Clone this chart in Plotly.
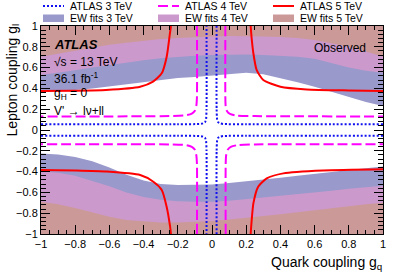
import plotly.graph_objects as go

# ---------------- data ----------------
GQ = [-1.0, -0.9, -0.8, -0.7, -0.6, -0.5, -0.4, -0.3, -0.2, -0.1, 0.0,
      0.1, 0.2, 0.3, 0.4, 0.5, 0.6, 0.7, 0.8, 0.9, 1.0]

EW3_UP = [0.37, 0.375, 0.385, 0.40, 0.42, 0.44, 0.46, 0.48, 0.50, 0.51, 0.525,
          0.54, 0.55, 0.535, 0.50, 0.46, 0.415, 0.365, 0.315, 0.27, 0.23]
EW3_LO = [-0.225, -0.235, -0.26, -0.30, -0.36, -0.43, -0.485, -0.52, -0.53, -0.53, -0.525,
          -0.51, -0.495, -0.48, -0.46, -0.44, -0.425, -0.405, -0.385, -0.37, -0.35]
EW4_UP = [0.53, 0.55, 0.575, 0.60, 0.625, 0.65, 0.67, 0.69, 0.705, 0.715, 0.72,
          0.725, 0.725, 0.72, 0.715, 0.705, 0.685, 0.645, 0.60, 0.57, 0.55]
EW4_LO = [-0.40, -0.41, -0.44, -0.49, -0.54, -0.60, -0.645, -0.67, -0.685, -0.69, -0.69,
          -0.68, -0.665, -0.65, -0.635, -0.62, -0.60, -0.585, -0.565, -0.55, -0.535]
EW5_UP = [0.705, 0.735, 0.765, 0.795, 0.82, 0.84, 0.86, 0.875, 0.885, 0.895, 0.90,
          0.905, 0.905, 0.90, 0.895, 0.885, 0.865, 0.835, 0.80, 0.755, 0.705]
EW5_LO = [-0.69, -0.715, -0.75, -0.795, -0.835, -0.865, -0.88, -0.89, -0.89, -0.885, -0.875,
          -0.86, -0.845, -0.83, -0.81, -0.79, -0.77, -0.75, -0.73, -0.715, -0.70]

# ATLAS observed 3 TeV (four branches)
A3_UL_X = [-1.0, -0.2, -0.07, -0.052, -0.041, -0.035, -0.032, -0.032]
A3_UL_Y = [0.055, 0.056, 0.058, 0.064, 0.075, 0.10, 0.2, 1.0]
A3_UR_X = [1.0, 0.2, 0.065, 0.047, 0.036, 0.030, 0.027, 0.027]
A3_UR_Y = [0.055, 0.056, 0.058, 0.064, 0.075, 0.10, 0.2, 1.0]
A3_LL_X = [-1.0, -0.2, -0.07, -0.052, -0.041, -0.035, -0.032, -0.032]
A3_LL_Y = [-0.055, -0.056, -0.058, -0.064, -0.075, -0.10, -0.2, -1.0]
A3_LR_X = [1.0, 0.2, 0.065, 0.047, 0.036, 0.030, 0.027, 0.027]
A3_LR_Y = [-0.055, -0.056, -0.058, -0.064, -0.075, -0.10, -0.2, -1.0]

# ATLAS observed 4 TeV
A4_UL_X = [-0.088, -0.088, -0.092, -0.10, -0.118, -0.15, -0.25, -1.0]
A4_UL_Y = [1.0, 0.32, 0.23, 0.185, 0.158, 0.142, 0.134, 0.13]
A4_UR_X = [0.078, 0.078, 0.080, 0.088, 0.105, 0.14, 0.25, 1.0]
A4_UR_Y = [1.0, 0.32, 0.23, 0.18, 0.155, 0.14, 0.134, 0.13]
A4_LL_X = [-0.088, -0.088, -0.092, -0.10, -0.118, -0.15, -0.25, -1.0]
A4_LL_Y = [-1.0, -0.33, -0.24, -0.19, -0.162, -0.145, -0.139, -0.137]
A4_LR_X = [0.080, 0.080, 0.083, 0.092, 0.11, 0.15, 0.25, 1.0]
A4_LR_Y = [-1.0, -0.33, -0.24, -0.19, -0.162, -0.145, -0.139, -0.137]

# ATLAS observed 5 TeV
A5_UL_X = [-1.0, -0.8, -0.62, -0.42, -0.345, -0.294, -0.265, -0.246, -0.24]
A5_UL_Y = [0.375, 0.378, 0.385, 0.416, 0.465, 0.545, 0.705, 0.93, 1.0]
A5_UR_X = [0.226, 0.232, 0.242, 0.261, 0.30, 0.40, 0.554, 0.8, 1.0]
A5_UR_Y = [1.0, 0.88, 0.737, 0.577, 0.48, 0.416, 0.39, 0.38, 0.375]
A5_LL_X = [-1.0, -0.8, -0.616, -0.42, -0.343, -0.294, -0.265, -0.245, -0.24]
A5_LL_Y = [-0.385, -0.39, -0.40, -0.433, -0.497, -0.577, -0.74, -0.93, -1.0]
A5_LR_X = [0.226, 0.232, 0.242, 0.27, 0.32, 0.417, 0.65, 1.0]
A5_LR_Y = [-1.0, -0.87, -0.705, -0.545, -0.465, -0.417, -0.39, -0.378]

LEGEND_LINES = ["ATLAS 3 TeV", "ATLAS 4 TeV", "ATLAS 5 TeV"]
LEGEND_FILLS = ["EW fits 3 TeV", "EW fits 4 TeV", "EW fits 5 TeV"]

# ---------------- styles ----------------
C_EW3 = "#9999CC"
C_EW4 = "#CC99CC"
C_EW5 = "#CC9999"
C_A3 = "#1010F0"
C_A4 = "#FF00FF"
C_A5 = "#FF0000"
FONT = "Liberation Sans, Arial, Helvetica, sans-serif"
YMAX, YMIN = 1.0, -1.0
XMIN, XMAX = -1.0, 1.0

fig = go.Figure()


def band(up, lo, color):
    fig.add_trace(go.Scatter(x=GQ + [XMAX, XMIN], y=up + [YMAX, YMAX], fill="toself",
                             fillcolor=color, line=dict(width=0), mode="lines",
                             hoverinfo="skip", showlegend=False))
    fig.add_trace(go.Scatter(x=GQ + [XMAX, XMIN], y=lo + [YMIN, YMIN], fill="toself",
                             fillcolor=color, line=dict(width=0), mode="lines",
                             hoverinfo="skip", showlegend=False))


band(EW3_UP, EW3_LO, C_EW3)
band(EW4_UP, EW4_LO, C_EW4)
band(EW5_UP, EW5_LO, C_EW5)


def curve(xs, ys, color, dash):
    fig.add_trace(go.Scatter(x=xs, y=ys, mode="lines",
                             line=dict(color=color, width=2, dash=dash, shape="spline", smoothing=0.6),
                             showlegend=False, hoverinfo="skip"))


for xs, ys in [(A3_UL_X, A3_UL_Y), (A3_UR_X, A3_UR_Y), (A3_LL_X, A3_LL_Y), (A3_LR_X, A3_LR_Y)]:
    curve(xs, ys, C_A3, "2px,2px")
for xs, ys in [(A4_UL_X, A4_UL_Y), (A4_UR_X, A4_UR_Y), (A4_LL_X, A4_LL_Y), (A4_LR_X, A4_LR_Y)]:
    curve(xs, ys, C_A4, "10px,4px")
for xs, ys in [(A5_UL_X, A5_UL_Y), (A5_UR_X, A5_UR_Y), (A5_LL_X, A5_LL_Y), (A5_LR_X, A5_LR_Y)]:
    curve(xs, ys, C_A5, "solid")

# ---------------- manual legend (above the frame) ----------------
W, H = 403, 273
ML, MR, MT, MB = 41, 20, 26, 39
PW, PH = W - ML - MR, H - MT - MB


def px_x(p):
    return (p - ML) / PW


def px_y(p):
    return (H - MB - p) / PH


col_x = [43, 158, 273]
line_styles = [(C_A3, "2px,2px"), (C_A4, "10px,4px"), (C_A5, "solid")]
fill_cols = [C_EW3, C_EW4, C_EW5]
shapes = []
annotations = []
for i in range(3):
    x0 = col_x[i]
    x1 = x0 + 21
    col, dash = line_styles[i]
    shapes.append(dict(type="line", xref="paper", yref="paper",
                       x0=px_x(x0), x1=px_x(x1), y0=px_y(6), y1=px_y(6),
                       line=dict(color=col, width=2, dash=dash)))
    shapes.append(dict(type="rect", xref="paper", yref="paper",
                       x0=px_x(x0), x1=px_x(x1), y0=px_y(22), y1=px_y(14.5),
                       fillcolor=fill_cols[i], line=dict(width=0)))
    annotations.append(dict(text=LEGEND_LINES[i], xref="paper", yref="paper",
                            x=px_x(x1 + 4), y=px_y(6), xanchor="left", yanchor="middle",
                            showarrow=False, font=dict(size=10.5, color="black", family=FONT)))
    annotations.append(dict(text=LEGEND_FILLS[i], xref="paper", yref="paper",
                            x=px_x(x1 + 4), y=px_y(17.5), xanchor="left", yanchor="middle",
                            showarrow=False, font=dict(size=10.5, color="black", family=FONT)))


# inner labels
def txt(s, x, y, size=12, anchor="left"):
    annotations.append(dict(text=s, xref="paper", yref="paper", x=px_x(x), y=px_y(y),
                            xanchor=anchor, yanchor="middle", showarrow=False,
                            font=dict(size=size, color="black", family=FONT)))


txt("<b><i>ATLAS</i></b>", 52, 44, 13)
txt("\u221As = 13 TeV", 52, 62, 12)
txt("36.1 fb<sup>-1</sup>", 52, 78, 12)
txt("g<sub>H</sub> = 0", 52, 94, 12)
txt("V' \u2192 l\u03bd+ll", 52, 111, 12)
txt("Observed", 368, 48, 12, "right")

# axis titles
annotations.append(dict(text="Quark coupling g<sub>q</sub>", xref="paper", yref="paper",
                        x=1.0, y=px_y(273), xanchor="right", yanchor="bottom", showarrow=False,
                        borderpad=0,
                        font=dict(size=14, color="black", family=FONT)))
annotations.append(dict(text="Lepton coupling g<sub>l</sub>", xref="paper", yref="paper",
                        x=px_x(1), y=px_y(22), xanchor="left", yanchor="top", textangle=-90,
                        showarrow=False, font=dict(size=14, color="black", family=FONT)))

axis_common = dict(range=[-1, 1], dtick=0.2, showgrid=False, zeroline=False,
                   showline=True, linecolor="black", linewidth=1, mirror="allticks",
                   ticks="inside", ticklen=9, tickcolor="black", tickwidth=1,
                   tickfont=dict(size=11, color="black", family=FONT))

fig.update_layout(
    width=W, height=H,
    margin=dict(l=ML, r=MR, t=MT, b=MB),
    paper_bgcolor="white", plot_bgcolor="white",
    showlegend=False,
    xaxis=dict(**axis_common, minor=dict(dtick=0.05, ticklen=4, ticks="inside", tickcolor="black")),
    yaxis=dict(**axis_common, minor=dict(dtick=0.04, ticklen=5, ticks="inside", tickcolor="black")),
    shapes=shapes,
    annotations=annotations,
)

fig.write_html("out.html", config={"displayModeBar": False},
               post_script="document.body.style.margin='0';")
